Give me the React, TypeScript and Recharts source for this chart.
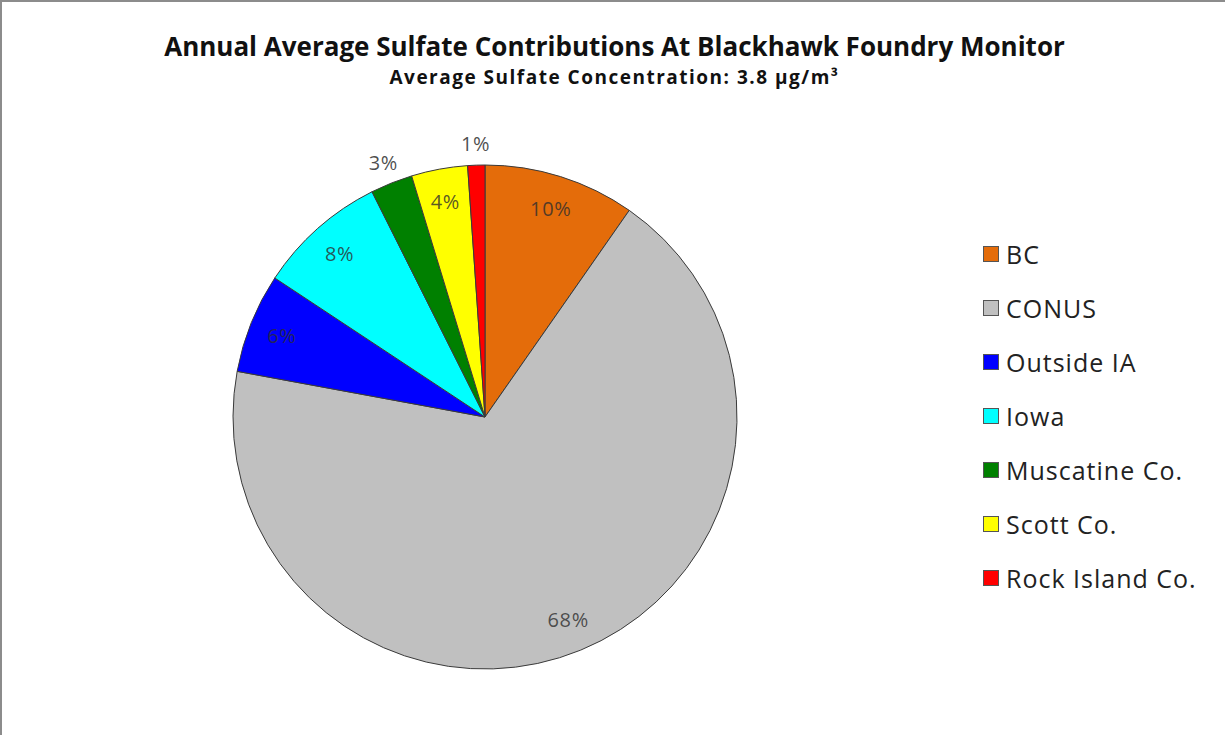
import React from 'react';
import { PieChart, Pie, Cell } from 'recharts';

// Source categories and their share (%) of the annual average sulfate
const sources = ['BC', 'CONUS', 'Outside IA', 'Iowa', 'Muscatine Co.', 'Scott Co.', 'Rock Island Co.'];
const shares = [9.7, 68.2, 6.4, 8.3, 2.7, 3.6, 1.1];
const colors = ['#E46C0A', '#C0C0C0', '#0000FF', '#00FFFF', '#008000', '#FFFF00', '#FF0000'];

const FONT = '"Open Sans", Lato, sans-serif';

const chartData = sources.map((name, i) => ({ name, value: shares[i] }));

const RADIAN = Math.PI / 180;

// Percent labels: inside the slice, small slices pushed outside the rim
const renderLabel = (props: any) => {
  const { cx, cy, midAngle, outerRadius, percent, value } = props;
  const outside = value < 3;
  const r = outside ? outerRadius + 22 : outerRadius - 33;
  const x = cx + r * Math.cos(-midAngle * RADIAN);
  const y = cy + r * Math.sin(-midAngle * RADIAN);
  return (
    <text
      x={x}
      y={y}
      textAnchor="middle"
      dominantBaseline="central"
      fill="#2e2e2e"
      fillOpacity={outside ? 0.85 : 0.8}
      style={{ fontFamily: FONT, fontSize: 20, letterSpacing: 0.6 }}
    >
      {Math.round(percent * 100)}%
    </text>
  );
};

export default function App() {
  return (
    <div
      style={{
        position: 'absolute',
        left: 0,
        top: 0,
        width: 1225,
        height: 735,
        background: '#fff',
        borderTop: '2px solid #8c8c8c',
        borderLeft: '2px solid #8c8c8c',
        boxSizing: 'border-box',
        fontFamily: FONT,
      }}
    >
      <div
        style={{
          position: 'absolute',
          top: 26,
          left: 0,
          width: 1225,
          textAlign: 'center',
          fontWeight: 700,
          fontSize: 26,
          color: '#111',
        }}
      >
        Annual Average Sulfate Contributions At Blackhawk Foundry Monitor
      </div>
      <div
        style={{
          position: 'absolute',
          top: 62,
          left: 0,
          width: 1225,
          textAlign: 'center',
          fontWeight: 700,
          fontSize: 19,
          letterSpacing: 1.5,
          color: '#111',
        }}
      >
        Average Sulfate Concentration: 3.8 µg/m³
      </div>

      <div style={{ position: 'absolute', left: -2, top: -2 }}>
        <PieChart width={1225} height={735} margin={{ top: 0, right: 0, bottom: 0, left: 0 }}>
          <Pie
            data={chartData}
            dataKey="value"
            nameKey="name"
            cx={485}
            cy={417}
            outerRadius={252}
            startAngle={90}
            endAngle={-270}
            stroke="#3a3a3a"
            strokeWidth={1}
            label={renderLabel}
            labelLine={false}
            isAnimationActive={false}
          >
            {chartData.map((d, i) => (
              <Cell key={d.name} fill={colors[i]} />
            ))}
          </Pie>
        </PieChart>
      </div>

      {/* legend */}
      <div style={{ position: 'absolute', left: 981, top: 225 }}>
        {sources.map((s, i) => (
          <div key={s} style={{ display: 'flex', alignItems: 'center', height: 54 }}>
            <span
              style={{
                display: 'inline-block',
                width: 14,
                height: 14,
                background: colors[i],
                border: '1px solid #555',
                marginRight: 7,
              }}
            />
            <span style={{ fontSize: 25, letterSpacing: 1, color: '#222' }}>{s}</span>
          </div>
        ))}
      </div>
    </div>
  );
}
